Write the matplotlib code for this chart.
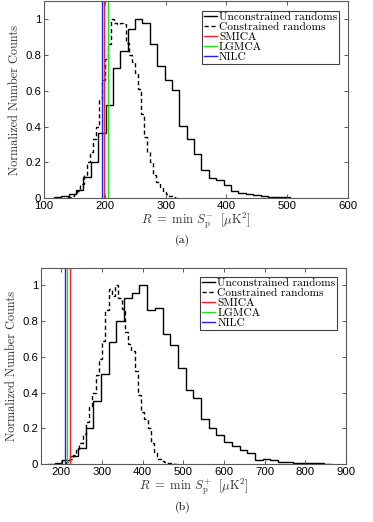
import numpy as np
import matplotlib
matplotlib.use('Agg')
import matplotlib.pyplot as plt

plt.rcParams['mathtext.fontset'] = 'cm'
plt.rcParams['axes.unicode_minus'] = False

# panel (a): R = min S_p^-
a_solid_start, a_solid_width = 116.2, 12.14
a_solid = [0.005, 0.01, 0.02, 0.045, 0.115, 0.2, 0.365, 0.52, 0.73, 0.82, 0.946,
           1.0, 0.98, 0.86, 0.74, 0.66, 0.605, 0.405, 0.33, 0.245, 0.155, 0.11,
           0.10, 0.07, 0.04, 0.03, 0.02, 0.015, 0.01, 0.008, 0.008, 0.005]
a_dash_start, a_dash_width = 140.0, 5.0
a_dash = [0.005, 0.01, 0.02, 0.04, 0.08, 0.13, 0.2, 0.26, 0.33, 0.40, 0.55, 0.66,
          0.78, 0.86, 1.0, 0.98, 0.975, 0.98, 0.975, 0.87, 0.80, 0.76, 0.70, 0.61,
          0.47, 0.34, 0.26, 0.2, 0.13, 0.09, 0.06, 0.035, 0.02, 0.01, 0.005, 0.002]
a_maps = {'SMICA': 199, 'LGMCA': 205, 'NILC': 195}

# panel (b): R = min S_p^+
b_solid_start, b_solid_width = 164.9, 18.92
b_solid = [0.002, 0.008, 0.025, 0.045, 0.09, 0.2, 0.355, 0.505, 0.685, 0.8, 0.93,
           0.96, 1.0, 0.863, 0.873, 0.73, 0.667, 0.535, 0.414, 0.367, 0.25, 0.2,
           0.165, 0.124, 0.1, 0.08, 0.06, 0.023, 0.027, 0.022, 0.012, 0.012,
           0.008, 0.004, 0.003, 0.003, 0.001]
b_dash_start, b_dash_width = 212.0, 8.0
b_dash = [0.01, 0.03, 0.05, 0.077, 0.12, 0.17, 0.235, 0.32, 0.4, 0.5, 0.59, 0.69,
          0.86, 0.98, 0.94, 1.0, 0.93, 0.87, 0.74, 0.67, 0.63, 0.52, 0.385, 0.29,
          0.25, 0.2, 0.12, 0.067, 0.03, 0.015, 0.01, 0.005, 0.004, 0.002, 0.001]
b_maps = {'SMICA': 220, 'LGMCA': 214, 'NILC': 208}

map_colors = {'SMICA': '#ff2020', 'LGMCA': '#20e020', 'NILC': '#2020ff'}

serif = 'cmr10'
tickfont = 'Liberation Sans'


def panel(ax, solid, s0, sw, dash, d0, dw, maps, xlim, xticks, sign):
    ax.stairs(solid, s0 + sw * np.arange(len(solid) + 1), color='k', lw=1.0,
              label='Unconstrained randoms')
    ax.stairs(dash, d0 + dw * np.arange(len(dash) + 1), color='k', lw=1.0,
              ls=(0, (3, 2)), label='Constrained randoms')
    for name in ['SMICA', 'LGMCA', 'NILC']:
        ax.axvline(maps[name], color=map_colors[name], lw=1.0, label=name)
    ax.set_xlim(*xlim)
    ax.set_ylim(0, 1.1)
    ax.set_xticks(xticks)
    ax.set_yticks([0, 0.2, 0.4, 0.6, 0.8, 1])
    ax.set_yticklabels(['0', '0.2', '0.4', '0.6', '0.8', '1'])
    ax.tick_params(direction='in', length=3, width=0.6, top=True, right=True,
                   labelsize=8.2, pad=2, colors='0.25', labelcolor='k')
    for lab in ax.get_xticklabels() + ax.get_yticklabels():
        lab.set_family(tickfont)
    for sp in ax.spines.values():
        sp.set_color('0.35')
        sp.set_linewidth(0.8)
    ax.set_xlabel(r'$R\ =\ \min\ S_{\mathrm{p}}^{%s}\ \ [\mu\mathrm{K}^2]$' % sign,
                  fontsize=9, labelpad=0, color='0.2')
    ax.set_ylabel('Normalized Number Counts', family=serif, fontsize=8.8,
                  labelpad=3, color='0.2')
    leg = ax.legend(loc='upper right', prop={'family': serif, 'size': 8.2},
                    handlelength=1.2, handletextpad=0.15, borderpad=0.15,
                    labelspacing=0.0, fancybox=False, framealpha=1,
                    borderaxespad=0.8)
    leg.get_frame().set_edgecolor('0.25')
    leg.get_frame().set_linewidth(0.8)


fig = plt.figure(figsize=(3.73, 5.22), dpi=100)
ax1 = fig.add_axes([0.118, 0.6207, 0.815, 0.3766])
ax2 = fig.add_axes([0.11, 0.1111, 0.818, 0.3764])

panel(ax1, a_solid, a_solid_start, a_solid_width, a_dash, a_dash_start,
      a_dash_width, a_maps, (100, 600), range(100, 601, 100), '-')
panel(ax2, b_solid, b_solid_start, b_solid_width, b_dash, b_dash_start,
      b_dash_width, b_maps, (150, 900), range(200, 901, 100), '+')

fig.text(0.49, 1 - 240 / 522, '(a)', family=serif, fontsize=8.5, ha='center', va='center')
fig.text(0.49, 1 - 507 / 522, '(b)', family=serif, fontsize=8.5, ha='center', va='center')

fig.savefig('out.png', dpi=100)
